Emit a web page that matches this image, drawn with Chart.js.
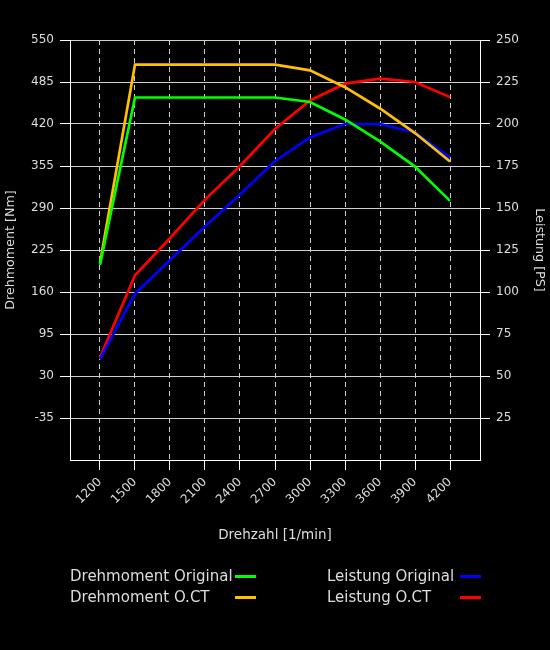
<!DOCTYPE html>
<html>
<head>
<meta charset="utf-8">
<style>
    body { margin: 0; background: #000; }
    #wrap { position: relative; width: 550px; height: 650px; background: #000; }
    .leg { position: absolute; font-family: "DejaVu Sans", sans-serif; font-size: 15px; color: #ddd; line-height: 20px; }
    .leg span { position: absolute; height: 3px; width: 21px; }
</style>
</head>
<body>
<div id="wrap">
    <canvas id="myChart" width="550" height="650"></canvas>
    <div class="leg" style="left:70px; top:566px;">Drehmoment Original<span style="left:165px; top:9px; background:#00ff00;"></span></div>
    <div class="leg" style="left:70px; top:587px;">Drehmoment O.CT<span style="left:165px; top:9px; background:#ffc000;"></span></div>
    <div class="leg" style="left:327px; top:566px;">Leistung Original<span style="left:133px; top:9px; background:#0000ff;"></span></div>
    <div class="leg" style="left:327px; top:587px;">Leistung O.CT<span style="left:133px; top:9px; background:#ff0000;"></span></div>
</div>
<script src="https://cdn.jsdelivr.net/npm/chart.js"></script>
<script>
    // rpm steps on the x axis
    const rpm = [1200, 1500, 1800, 2100, 2400, 2700, 3000, 3300, 3600, 3900, 4200];
    // torque in Nm (left axis)
    const torqueOriginal = [202, 461, 461, 461, 461, 461, 454, 427, 393, 354, 301];
    const torqueOCT = [205, 512, 512, 512, 512, 512, 503, 477, 444, 406, 362];
    // power in PS (right axis)
    const powerOriginal = [60, 99, 119, 139, 158, 178, 192, 200, 200, 195, 180];
    const powerOCT = [61, 110, 132, 155, 175, 197, 214, 224, 227, 225, 216];

    const textColor = '#dddddd';
    const font = { family: 'DejaVu Sans', size: 12 };
    const titleFont = { family: 'DejaVu Sans', size: 13.5 };
    const sideTitleFont = { family: 'DejaVu Sans', size: 12.7 };

    function toPoints(values) {
        return rpm.map((r, i) => ({ x: r, y: values[i] }));
    }

    function line(label, values, color, axis) {
        return {
            label: label,
            data: toPoints(values),
            borderColor: color,
            backgroundColor: color,
            borderWidth: 2.7,
            pointRadius: 0,
            tension: 0,
            yAxisID: axis
        };
    }

    // no tick mark at the bottom of the value axes
    function tickColorAt(bottom) {
        return c => (c.tick && c.tick.value === bottom) ? 'rgba(0,0,0,0)' : '#ffffff';
    }

    const ctx = document.getElementById('myChart').getContext('2d');
    const myChart = new Chart(ctx, {
        type: 'line',
        data: {
            datasets: [
                line('Drehmoment Original', torqueOriginal, '#00ff00', 'y'),
                line('Drehmoment O.CT', torqueOCT, '#ffc000', 'y'),
                line('Leistung Original', powerOriginal, '#0000ff', 'y1'),
                line('Leistung O.CT', powerOCT, '#ff0000', 'y1')
            ]
        },
        options: {
            responsive: false,
            animation: false,
            layout: { padding: { top: 40, bottom: 102, left: 0, right: 0 } },
            plugins: {
                legend: { display: false },
                tooltip: { enabled: false }
            },
            scales: {
                x: {
                    type: 'linear',
                    min: 943,
                    max: 4457,
                    afterBuildTicks: function (scale) {
                        scale.ticks = rpm.map(v => ({ value: v }));
                    },
                    afterFit: function (scale) { scale.height = 88; },
                    ticks: {
                        color: textColor,
                        font: font,
                        minRotation: 45,
                        maxRotation: 45,
                        padding: 5,
                        callback: v => String(v)
                    },
                    grid: { color: '#cccccc', tickColor: '#ffffff', tickLength: 10, lineWidth: 1 },
                    border: { color: '#ffffff', dash: [5, 4] },
                    title: { display: true, text: 'Drehzahl [1/min]', color: textColor, font: titleFont }
                },
                y: {
                    position: 'left',
                    min: -100,
                    max: 550,
                    afterFit: function (scale) { scale.width = 70; },
                    ticks: {
                        stepSize: 65,
                        color: textColor,
                        font: font,
                        padding: 6,
                        callback: v => v === -100 ? '' : v
                    },
                    grid: { color: '#d0d0d0', tickColor: tickColorAt(-100), tickLength: 10 },
                    border: { color: '#ffffff' },
                    title: { display: true, text: 'Drehmoment [Nm]', color: textColor, font: sideTitleFont, padding: { top: 3, bottom: 4 } }
                },
                y1: {
                    position: 'right',
                    min: 0,
                    max: 250,
                    afterFit: function (scale) { scale.width = 70; },
                    ticks: {
                        stepSize: 25,
                        color: textColor,
                        font: font,
                        padding: 6,
                        callback: v => v === 0 ? '' : v
                    },
                    grid: { drawOnChartArea: false, tickColor: tickColorAt(0), tickLength: 10 },
                    border: { color: '#ffffff' },
                    title: { display: true, text: 'Leistung [PS]', color: textColor, font: sideTitleFont, padding: { top: 3, bottom: 4 } }
                }
            }
        }
    });
</script>
</body>
</html>
